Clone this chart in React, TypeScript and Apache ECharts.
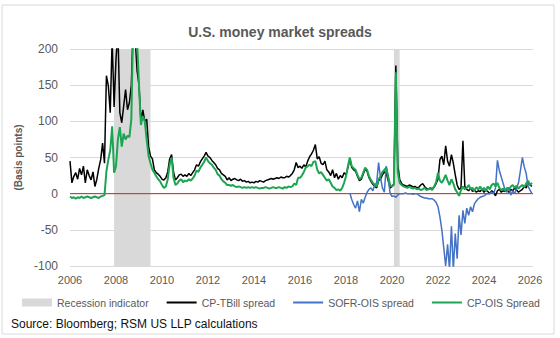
import React, { useEffect, useRef } from "react";
import * as echarts from "echarts";

const START_YEAR = 2006;
const SOFR_START = 2018 + 2 / 12;
const X_MIN = 2006;
const X_MAX = 2026.13;
const yTicks = { min: -100, max: 200, interval: 50 };

const recessions: [number, number][] = [
  [2007.917, 2009.5],
  [2020.083, 2020.333],
];

// Monthly values, Jan 2006 onward
const cpTbill = [
  45, 15, 24, 29, 20, 35, 26, 38, 15, 33, 25, 19,
  30, 10, 20, 35, 47, 70, 42, 163, 149, 112, 215, 120,
  186, 225, 112, 98, 121, 144, 116, 126, 150, 235, 215, 170,
  150, 100, 116, 100, 103, 65, 52, 48, 33, 29, 27, 24,
  20, 19, 22, 30, 48, 54, 30, 19, 22, 26, 27, 24,
  26, 24, 28, 25, 29, 33, 40, 38, 44, 48, 52, 57,
  52, 50, 46, 43, 40, 35, 33, 28, 26, 24, 19, 22,
  18, 20, 21, 19, 18, 20, 17, 18, 16, 17, 15, 16,
  15, 17, 16, 18, 17, 16, 18, 19, 20, 21, 20, 21,
  22, 21, 23, 22, 22, 24, 23, 25, 28, 33, 43, 36,
  38, 35, 40, 37, 45, 51, 55, 60, 68, 48, 51, 42,
  40, 45, 33, 30, 25, 33, 22, 28, 20, 25, 22, 29,
  26, 36, 48, 36, 33, 31, 24, 18, 20, 27, 34, 31,
  22, 17, 13, 10, 8, 18, 20, 26, 30, 28, 18, 8,
  10, 14, 177, 40, 20, 14, 12, 11, 10, 12, 11, 9,
  10, 8, 9, 12, 14, 10, 7, 6, 8, 7, 9, 14,
  20, 47, 52, 40, 66, 45, 38, 54, 42, 26, 12, 6,
  8, 73, 10, 6, 4, 8, 3, 5, 2, 4, 3, 6,
  2, 5, 3, 0, 4, 2, -3, 4, 6, 2, 4, 3,
  5, 2, 6, 4, 8, 5, 2, 4, 6, 10, 8, 15,
  12, 10,
];

const cpOis = [
  -4, -6, -5, -7, -5, -6, -4, -6, -5, -4, -5, -6,
  -5, -4, -5, -6, -4, -3, -2, 31, 47, 60, 93, 29,
  38, 75, 92, 65, 83, 75, 80, 78, 103, 240, 230, 210,
  150, 95, 107, 100, 75, 52, 42, 33, 29, 24, 20, 17,
  12, 8, 10, 20, 40, 50, 22, 12, 14, 18, 20, 16,
  18, 17, 20, 18, 21, 25, 32, 30, 36, 40, 44, 50,
  45, 42, 40, 36, 33, 27, 25, 20, 17, 15, 12, 12,
  11, 12, 10, 9, 10, 9, 8, 9, 8, 9, 8, 9,
  8, 9, 8, 7, 8, 8, 9, 8, 7, 8, 9, 8,
  8, 9, 8, 7, 9, 8, 10, 9, 10, 14, 12, 22,
  22, 25, 30, 36, 38, 40, 38, 44, 45, 33, 28, 30,
  26, 22, 18, 20, 15, 10, 8, 5, 6, 4, 8, 15,
  24, 38, 50, 38, 35, 33, 26, 20, 22, 29, 36, 33,
  24, 19, 15, 12, 10, 20, 24, 30, 33, 36, 24, 12,
  10, 12, 168, 30, 15, 12, 10, 9, 8, 10, 8, 7,
  8, 6, 7, 5, 6, 8, 5, 6, 7, 5, 10, 16,
  29, 18, 15, 20, 26, 18, 12, 20, 14, 6, 2, -3,
  5, 10, 6, 8, 12, 6, 8, 4, 9, 6, 10, 5,
  8, 4, 10, 6, 12, 14, 10, 15, 8, 5, 7, 4,
  8, 6, 10, 12, 8, 11, 7, 10, 12, 9, 14, 18,
  12, 15,
];

// Monthly values, Mar 2018 onward
const sofrOis = [
  1, -8, -15, -20, -10, -25, -8, -13, -5, 2,
  6, 8, 4, 12, 15, 43, 22, 8, 2, 38, 22, 1,
  -4, -3, -5, -2, 0, 0, 0, 1, 0, 0, 0, -1,
  0, 0, -2, -4, -5, -6, -6, -7, -7, -7, -9, -12,
  -18, -32, -50, -75, -100, -70, -105, -45, -105, -55, -90, -30,
  -57, -23, -41, -20, -30, -18, -25, -14, -10, -7, -5, -4,
  -3, -1, 0, 0, 2, 0, 8, 46, 32, 23, 14, 5,
  2, 9, -2, 4, 0, 8, 15, 32, 50, 37, 28, 10,
  5, 0,
];

const toPairs = (start: number, vals: number[]) =>
  vals.map((v, i) => [start + i / 12, v]);

const FONT = "Liberation Sans, Arial, sans-serif";

export default function App() {
  const ref = useRef<HTMLDivElement>(null);
  useEffect(() => {
    if (!ref.current) return;
    const chart = echarts.init(ref.current, undefined, { renderer: "svg" });
    const txt = "#595959";
    const noSym = { opacity: 0 };
    chart.setOption({
      animation: false,
      backgroundColor: "#fff",
      title: {
        text: "U.S. money market spreads",
        left: "center",
        top: 20,
        textStyle: { fontSize: 14, fontWeight: "bold", color: txt, fontFamily: FONT },
      },
      grid: { left: 70, right: 27, top: 49, bottom: 72 },
      legend: {
        left: 17,
        top: 292,
        itemWidth: 30,
        itemHeight: 8,
        itemGap: 17,
        textStyle: { fontSize: 10.5, color: txt, fontFamily: FONT },
        data: [
          { name: "Recession indicator", icon: "rect" },
          { name: "CP-TBill spread", itemStyle: noSym },
          { name: "SOFR-OIS spread", itemStyle: noSym },
          { name: "CP-OIS Spread", itemStyle: noSym },
        ],
      },
      xAxis: {
        type: "value",
        min: X_MIN,
        max: X_MAX,
        interval: 2,
        axisLine: { show: false },
        axisTick: { show: false },
        splitLine: { show: false },
        axisLabel: {
          fontSize: 11,
          color: txt,
          margin: 8,
          fontFamily: FONT,
          formatter: (v: number) => (Math.abs(v - Math.round(v)) < 1e-6 ? String(Math.round(v)) : ""),
        },
      },
      yAxis: {
        type: "value",
        min: yTicks.min,
        max: yTicks.max,
        interval: yTicks.interval,
        name: "(Basis points)",
        nameLocation: "middle",
        nameGap: 42,
        nameTextStyle: { fontSize: 10, fontWeight: "bold", color: txt, fontFamily: FONT },
        axisLine: { show: false },
        axisTick: { show: false },
        splitLine: { lineStyle: { color: "#D9D9D9", width: 1 } },
        axisLabel: { fontSize: 12, color: txt, margin: 12, fontFamily: FONT },
      },
      graphic: [
        {
          type: "rect",
          shape: { x: 2, y: 5, width: 552, height: 329 },
          style: { fill: "none", stroke: "#D9D9D9", lineWidth: 1 },
          silent: true,
        },
        {
          type: "text",
          left: 11,
          top: 318,
          style: { text: "Source: Bloomberg; RSM US LLP calculations", fontSize: 12, fill: "#111", fontFamily: FONT },
        },
      ],
      series: [
        {
          name: "Recession indicator",
          type: "line",
          data: [],
          itemStyle: { color: "#D9D9D9" },
          lineStyle: { color: "#D9D9D9" },
          markArea: {
            silent: true,
            itemStyle: { color: "#D9D9D9" },
            data: recessions.map(([a, b]) => [{ xAxis: a }, { xAxis: b }]),
          },
        },
        {
          name: "zero",
          type: "line",
          data: [[X_MIN, 0], [X_MAX, 0]],
          symbol: "none",
          lineStyle: { color: "#D0202A", width: 1 },
          silent: true,
        },
        {
          name: "CP-TBill spread",
          type: "line",
          data: toPairs(START_YEAR, cpTbill),
          symbol: "none",
          itemStyle: { color: "#000000" },
          lineStyle: { color: "#000000", width: 1.5 },
        },
        {
          name: "SOFR-OIS spread",
          type: "line",
          data: toPairs(SOFR_START, sofrOis),
          symbol: "none",
          itemStyle: { color: "#4472C4" },
          lineStyle: { color: "#4472C4", width: 1.5 },
        },
        {
          name: "CP-OIS Spread",
          type: "line",
          data: toPairs(START_YEAR, cpOis),
          symbol: "none",
          itemStyle: { color: "#1DA552" },
          lineStyle: { color: "#1DA552", width: 2 },
        },
      ],
    });
    return () => chart.dispose();
  }, []);
  return (
    <div
      ref={ref}
      style={{ position: "fixed", left: 0, top: 0, width: 560, height: 338, background: "#fff" }}
    />
  );
}
